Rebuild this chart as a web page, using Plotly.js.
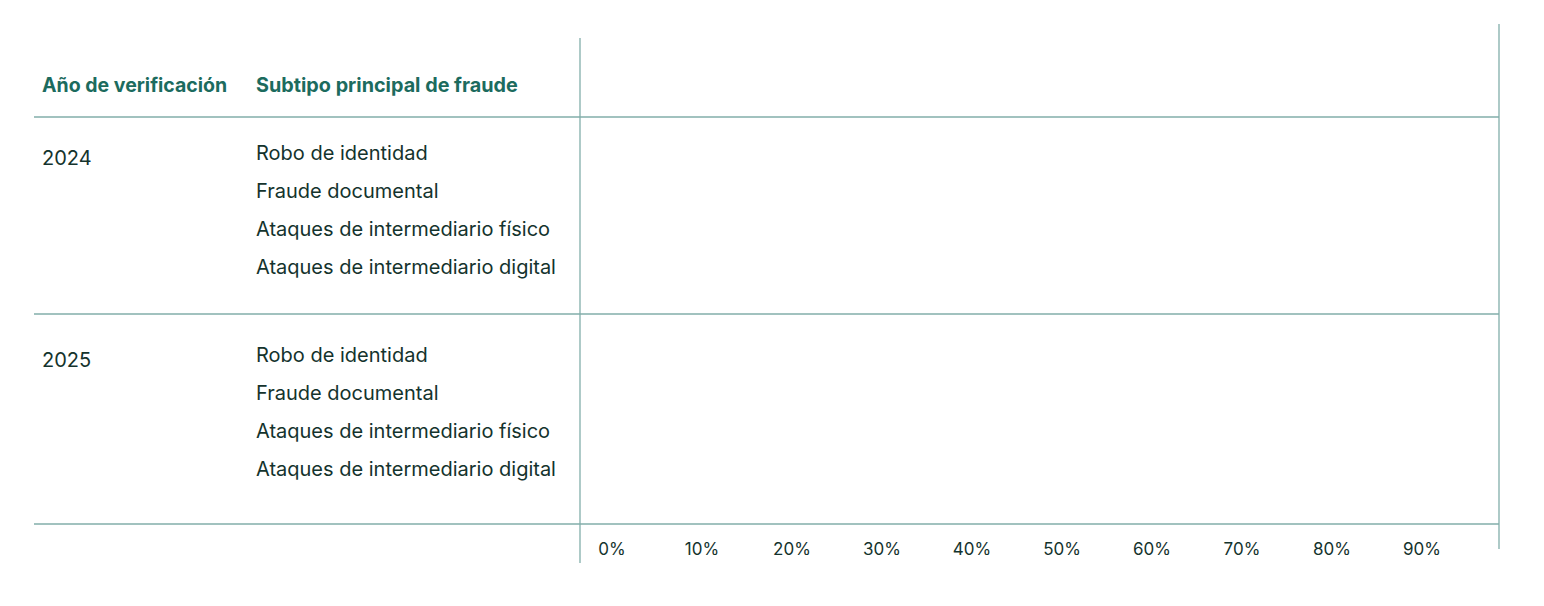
<!DOCTYPE html>
<html>
<head>
<meta charset="utf-8">
<script src="https://cdn.plot.ly/plotly-3.0.1.min.js"></script>
<style>html,body{margin:0;padding:0;background:#fff;}#chart{width:1544px;height:606px;}</style>
</head>
<body>
<div id="chart"></div>
<script>
// ---- data ----
const headers = ["Año de verificación", "Subtipo principal de fraude"];
const years = ["2024", "2025"];
const subtypes = ["Robo de identidad", "Fraude documental", "Ataques de intermediario físico", "Ataques de intermediario digital"];
const values2024 = [null, null, null, null];
const values2025 = [null, null, null, null];
const tickValues = [0, 10, 20, 30, 40, 50, 60, 70, 80, 90];
const tickLabels = ["0%", "10%", "20%", "30%", "40%", "50%", "60%", "70%", "80%", "90%"];

// ---- layout constants ----
const W = 1544, H = 606;
const FONT = "Inter, 'Noto Sans', sans-serif";
const LINE = "#82aeaa";
const HEAD = "#1c6b5e";
const TXT = "#14332d";
const GROUP_STEP = 5.316;
const seriesValues = [values2024, values2025];

const px = x => x / W;
const py = y => (H - y) / H;

const traces = years.map((yr, g) => ({
  type: "bar",
  orientation: "h",
  name: yr,
  x: seriesValues[g],
  y: subtypes.map((s, i) => g * GROUP_STEP + i),
  marker: {color: "#1c6b5e"},
  hoverinfo: "skip",
  showlegend: false
}));

const annotations = [];
annotations.push({text: "<b>" + headers[0] + "</b>", xref: "paper", yref: "paper", x: px(40), y: py(85), xanchor: "left", yanchor: "middle", showarrow: false, font: {family: FONT, size: 19.5, color: HEAD}});
annotations.push({text: "<b>" + headers[1] + "</b>", xref: "paper", yref: "paper", x: px(254), y: py(85), xanchor: "left", yanchor: "middle", showarrow: false, font: {family: FONT, size: 19.8, color: HEAD}});
years.forEach((yr, g) => {
  annotations.push({text: yr, xref: "paper", yref: "y", x: px(40), y: g * GROUP_STEP + 0.12, xanchor: "left", yanchor: "middle", showarrow: false, font: {family: FONT, size: 20, color: TXT}});
  subtypes.forEach((s, i) => {
    annotations.push({text: s, xref: "paper", yref: "y", x: px(254), y: g * GROUP_STEP + i, xanchor: "left", yanchor: "middle", showarrow: false, font: {family: FONT, size: 20, color: TXT}});
  });
});

const shapes = [
  {type: "line", xref: "paper", yref: "paper", x0: px(34), x1: px(1499), y0: py(117), y1: py(117), line: {color: LINE, width: 1.7}},
  {type: "line", xref: "paper", yref: "paper", x0: px(34), x1: px(1499), y0: py(314), y1: py(314), line: {color: LINE, width: 1.7}},
  {type: "line", xref: "paper", yref: "paper", x0: px(34), x1: px(1499), y0: py(524), y1: py(524), line: {color: LINE, width: 1.7}},
  {type: "line", xref: "paper", yref: "paper", x0: px(580), x1: px(580), y0: py(38), y1: py(563), line: {color: LINE, width: 1.3}},
  {type: "line", xref: "paper", yref: "paper", x0: px(1499), x1: px(1499), y0: py(24), y1: py(549), line: {color: LINE, width: 1.3}}
];

const layout = {
  width: W, height: H,
  margin: {l: 0, r: 0, t: 0, b: 0, pad: 0},
  paper_bgcolor: "#ffffff", plot_bgcolor: "#ffffff",
  showlegend: false,
  xaxis: {
    domain: [px(580), px(1499)],
    range: [-32 / 9, (1499 - 612) / 9],
    tickvals: tickValues, ticktext: tickLabels,
    ticks: "outside", ticklen: 10, tickcolor: "rgba(0,0,0,0)",
    showgrid: false, zeroline: false, showline: false,
    tickfont: {family: FONT, size: 17, color: TXT},
    fixedrange: true
  },
  yaxis: {
    domain: [py(524), py(117)],
    range: [(524 - 153) / 38, (117 - 153) / 38],
    showticklabels: false, showgrid: false, zeroline: false, showline: false, ticks: "",
    fixedrange: true
  },
  annotations: annotations,
  shapes: shapes
};

Plotly.newPlot("chart", traces, layout, {displayModeBar: false, staticPlot: true});
</script>
</body>
</html>
